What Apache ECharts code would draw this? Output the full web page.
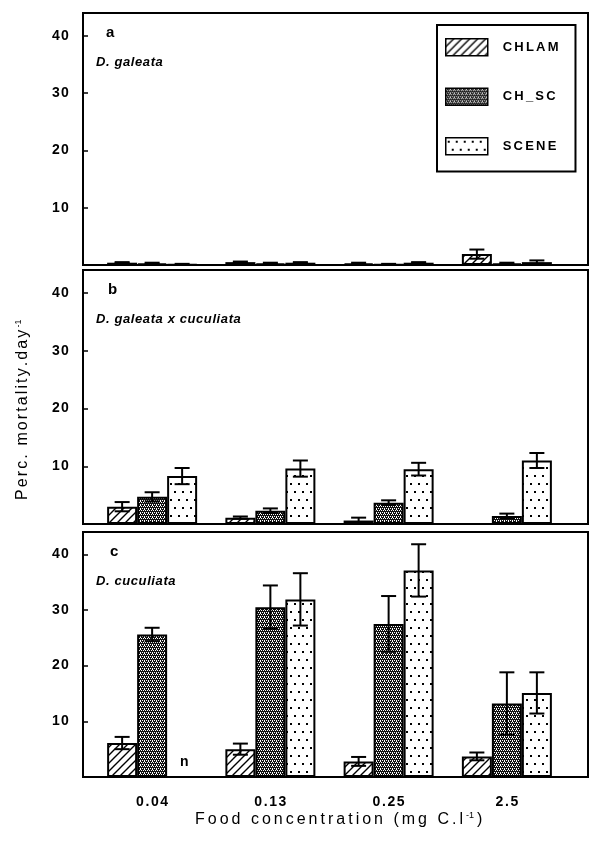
<!DOCTYPE html>
<html>
<head>
<meta charset="utf-8">
<script src="https://cdn.jsdelivr.net/npm/echarts@6/dist/echarts.min.js"></script>
<style>html,body{margin:0;padding:0;background:#fff;}#c{width:590px;height:841px;}</style>
</head>
<body>
<div id="c"></div>
<script>
// ---- data ----
const categories = ['0.04', '0.13', '0.25', '2.5'];
const seriesNames = ['CHLAM', 'CH_SC', 'SCENE'];
const yTicks = [10, 20, 30, 40];

// panel a: D. galeata
const aCHLAM = [0.4, 0.5, 0.3, 1.9];
const aCHLAMerr = [0.1, 0.1, 0.1, 0.8];
const aCHSC = [0.3, 0.3, 0.1, 0.3];
const aCHSCerr = [0.1, 0.1, 0.1, 0.1];
const aSCENE = [0.1, 0.4, 0.4, 0.5];
const aSCENEerr = [0.1, 0.1, 0.1, 0.3];

// panel b: D. galeata x cuculiata
const bCHLAM = [3.0, 1.1, 0.6, null];
const bCHLAMerr = [0.8, 0.2, 0.5, null];
const bCHSC = [4.7, 2.3, 3.7, 1.4];
const bCHSCerr = [0.8, 0.4, 0.4, 0.4];
const bSCENE = [8.3, 9.6, 9.5, 11.0];
const bSCENEerr = [1.4, 1.4, 1.1, 1.3];

// panel c: D. cuculiata
const cCHLAM = [6.1, 5.0, 2.8, 3.7];
const cCHLAMerr = [1.1, 1.0, 0.8, 0.7];
const cCHSC = [25.6, 30.5, 27.5, 13.2];
const cCHSCerr = [1.2, 3.9, 5.0, 5.6];
const cSCENE = [null, 31.9, 37.1, 15.1];
const cSCENEerr = [null, 4.7, 4.7, 3.7];

const panelLabels = ['a', 'b', 'c'];
const panelSpecies = ['D. galeata', 'D. galeata x cuculiata', 'D. cuculiata'];
const missingNote = 'n';
const xTitle = 'Food concentration (mg C.l';
const xTitleSup = '-1';
const yTitle = 'Perc. mortality.day';
const yTitleSup = '-1';

// ---- patterns ----
function mkCanvas(w, h, draw) {
  const cv = document.createElement('canvas');
  cv.width = w; cv.height = h;
  const ctx = cv.getContext('2d');
  ctx.fillStyle = '#fff'; ctx.fillRect(0, 0, w, h);
  draw(ctx);
  return { image: cv, repeat: 'repeat' };
}
const patHatch = mkCanvas(8, 8, ctx => {
  ctx.strokeStyle = '#000'; ctx.lineWidth = 1.4;
  ctx.beginPath();
  ctx.moveTo(-1, 9); ctx.lineTo(9, -1);
  ctx.moveTo(-5, 5); ctx.lineTo(5, -5);
  ctx.moveTo(3, 13); ctx.lineTo(13, 3);
  ctx.stroke();
});
const patCross = mkCanvas(4, 4, ctx => {
  ctx.fillStyle = '#111'; ctx.fillRect(0, 0, 4, 4);
  ctx.fillStyle = '#fff';
  ctx.fillRect(0, 0, 1, 1); ctx.fillRect(2, 0, 1, 1);
  ctx.fillRect(1, 2, 1, 1); ctx.fillRect(3, 2, 1, 1);
  ctx.fillRect(0, 1, 1, 1);
});
const patDots = mkCanvas(16, 16, ctx => {
  ctx.fillStyle = '#000';
  [[2, 3], [10, 3], [6, 11], [14, 11]].forEach(p => ctx.fillRect(p[0], p[1], 2, 2));
});
const patterns = [patHatch, patCross, patDots];

// ---- helpers: letter-spaced rich text ----
function spaced(str, key) {
  return str.split('').map(ch => '{' + key + '|' + ch + '}').join('');
}

// ---- layout ----
const panelTop = [13, 270, 532];
const panelH = [252, 254, 245];
const BAR_W = 30;
const YMAX = 44;

const panels = [
  [[aCHLAM, aCHLAMerr], [aCHSC, aCHSCerr], [aSCENE, aSCENEerr]],
  [[bCHLAM, bCHLAMerr], [bCHSC, bCHSCerr], [bSCENE, bSCENEerr]],
  [[cCHLAM, cCHLAMerr], [cCHSC, cCHSCerr], [cSCENE, cSCENEerr]]
];

const grid = [], xAxis = [], yAxis = [], series = [];
const FONT = '"Liberation Sans", Arial, sans-serif';

for (let p = 0; p < 3; p++) {
  grid.push({ left: 83, right: 2, top: panelTop[p], height: panelH[p], show: true,
    borderColor: '#000', borderWidth: 2, backgroundColor: 'transparent' });
}
for (let p = 0; p < 3; p++) {
  grid.push({ left: 93, width: 473, top: panelTop[p], height: panelH[p], show: false });
}
for (let p = 0; p < 3; p++) {
  xAxis.push({ gridIndex: p, type: 'category', data: categories, show: false });
  yAxis.push({ gridIndex: p, type: 'value', min: 0, max: YMAX, interval: 10,
    axisLine: { show: false },
    axisTick: { show: true, inside: true, length: 5, customValues: yTicks, lineStyle: { color: '#000', width: 1.5 } },
    axisLabel: { customValues: yTicks, color: '#000', fontFamily: FONT, fontWeight: 'bold', fontSize: 14, margin: 13,
      formatter: v => spaced(String(v), 't'),
      rich: { t: { fontFamily: FONT, fontWeight: 'bold', fontSize: 14, color: '#000', padding: [0, 1.2, 0, 0] } } },
    splitLine: { show: false } });
}
for (let p = 0; p < 3; p++) {
  xAxis.push({ gridIndex: 3 + p, type: 'category', data: categories,
    axisLine: { show: false }, axisTick: { show: false },
    axisLabel: { show: p === 2, interval: 0, hideOverlap: false, color: '#000', fontFamily: FONT, fontWeight: 'bold', fontSize: 14, margin: 18,
      formatter: v => spaced(String(v), 't'),
      rich: { t: { fontFamily: FONT, fontWeight: 'bold', fontSize: 14, color: '#000', padding: [0, 0.8, 0, 0.8] } } } });
  yAxis.push({ gridIndex: 3 + p, type: 'value', min: 0, max: YMAX, show: false, splitLine: { show: false } });
}

function errRender(offsetIdx) {
  return function (params, api) {
    const e = api.value(2);
    const v = api.value(1);
    if (e == null || isNaN(e) || v == null || isNaN(v)) return;
    const ci = api.value(0);
    const top = api.coord([ci, v + e]);
    const bot = api.coord([ci, Math.max(v - e, 0)]);
    const cx = top[0] + (offsetIdx - 1) * BAR_W;
    const cap = 7.5;
    const st = { stroke: '#000', lineWidth: 2 };
    return { type: 'group', children: [
      { type: 'line', shape: { x1: cx, y1: top[1], x2: cx, y2: bot[1] }, style: st },
      { type: 'line', shape: { x1: cx - cap, y1: top[1], x2: cx + cap, y2: top[1] }, style: st },
      { type: 'line', shape: { x1: cx - cap, y1: bot[1], x2: cx + cap, y2: bot[1] }, style: st }
    ] };
  };
}

for (let p = 0; p < 3; p++) {
  for (let s = 0; s < 3; s++) {
    const vals = panels[p][s][0];
    series.push({
      name: seriesNames[s], type: 'bar', xAxisIndex: 3 + p, yAxisIndex: 3 + p,
      data: vals, barWidth: BAR_W, barGap: '0%',
      itemStyle: { color: patterns[s], borderColor: '#000', borderWidth: 2 },
      emphasis: { disabled: true }, animation: false, z: 2
    });
  }
  for (let s = 0; s < 3; s++) {
    const vals = panels[p][s][0], errs = panels[p][s][1];
    series.push({
      name: seriesNames[s] + ' err', type: 'custom', xAxisIndex: 3 + p, yAxisIndex: 3 + p,
      data: vals.map((v, i) => [i, v == null ? NaN : v, errs[i] == null ? NaN : errs[i]]),
      renderItem: errRender(s), animation: false, z: 5, silent: true
    });
  }
}

const graphic = [];
for (let p = 0; p < 3; p++) {
  graphic.push({ type: 'text', left: 106 + p * 2, top: panelTop[p] + 12,
    style: { text: panelLabels[p], font: 'bold 15px ' + FONT, fill: '#000' } });
  graphic.push({ type: 'text', left: 96, top: panelTop[p] + 43,
    style: { text: spaced(panelSpecies[p], 'i'), rich: {
      i: { fontFamily: FONT, fontStyle: 'italic', fontWeight: 'bold', fontSize: 13, fill: '#000', padding: [0, 0.6, 0, 0] } } } });
}
graphic.push({ type: 'text', left: 180, top: 755,
  style: { text: missingNote, font: 'bold 14px ' + FONT, fill: '#000' } });
graphic.push({ type: 'text', left: 195, top: 811,
  style: { text: spaced(xTitle, 'm') + '{s|' + xTitleSup + '}' + '{m|)}', rich: {
    m: { fontFamily: FONT, fontSize: 16, fill: '#000', padding: [0, 3, 0, 0] },
    s: { fontFamily: FONT, fontSize: 9, fill: '#000', padding: [0, 3, 8, 0] } } } });
graphic.push({ type: 'text', x: 14, y: 500, rotation: Math.PI / 2,
  style: { text: spaced(yTitle, 'm') + '{s|' + yTitleSup + '}', rich: {
    m: { fontFamily: FONT, fontSize: 16, fill: '#000', padding: [0, 2.1, 0, 0] },
    s: { fontFamily: FONT, fontSize: 9, fill: '#000', padding: [0, 0, 8, 0] } } } });

const chart = echarts.init(document.getElementById('c'), null, { renderer: 'canvas' });
chart.setOption({
  animation: false,
  backgroundColor: '#fff',
  grid, xAxis, yAxis, series, graphic,
  legend: {
    data: seriesNames, orient: 'vertical', left: 437, top: 25,
    backgroundColor: '#fff', borderColor: '#000', borderWidth: 2,
    padding: [13, 17, 16, 8], itemWidth: 42, itemHeight: 17, itemGap: 31,
    icon: 'rect', selectedMode: false,
    itemStyle: { borderColor: '#000', borderWidth: 1.5 },
    formatter: name => spaced(name, 'l'),
    textStyle: { fontFamily: FONT, fontWeight: 'bold', fontSize: 13, color: '#000', padding: [0, 0, 0, 10],
      rich: { l: { fontFamily: FONT, fontWeight: 'bold', fontSize: 13, color: '#000', padding: [0, 2.2, 0, 0] } } }
  }
});
</script>
</body>
</html>
